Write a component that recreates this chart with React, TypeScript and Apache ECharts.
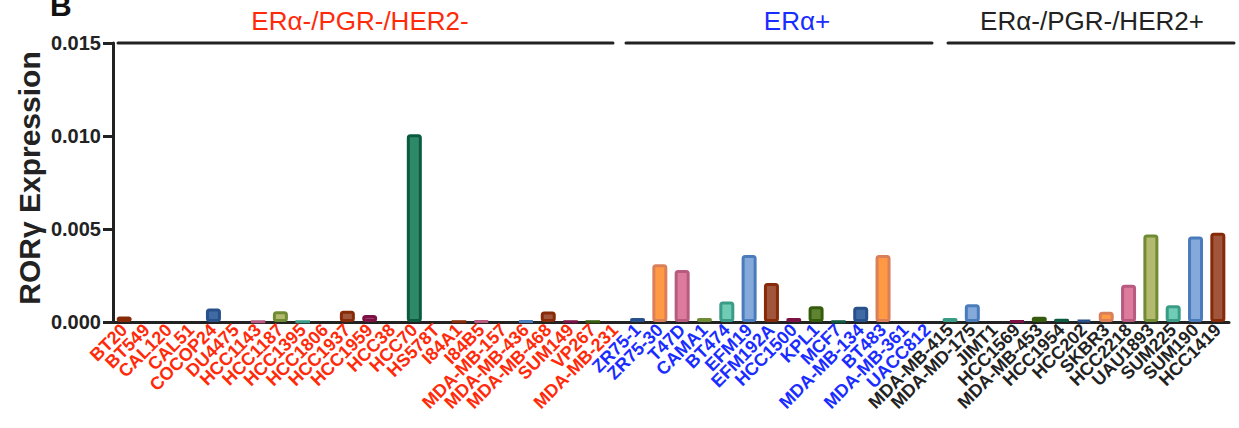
import React, { useEffect, useRef } from "react";
import * as echarts from "echarts";

const tnbcCells = [
  "BT20", "BT549", "CAL120", "CAL51", "COCOP24", "DU4475", "HCC1143", "HCC1187",
  "HCC1395", "HCC1806", "HCC1937", "HCC1959", "HCC38", "HCC70", "HS578T", "I84A1",
  "I84B5", "MDA-MB-157", "MDA-MB-436", "MDA-MB-468", "SUM149", "VP267", "MDA-MB-231",
];
const tnbcValues = [
  0.0003, 0, 0, 0, 0.00072, 0, 0.00003, 0.00058, 0.00002, 0, 0.0006, 0.00038, 0, 0.0101,
  0, 0.00002, 0.00006, 0, 0.00006, 0.00056, 0.00003, 0.00003, 0,
];
const tnbcColors = [
  "brown", "maroon", "dkgreen", "dkteal", "dkblue", "orange", "pink", "olive",
  "teal", "ltblue", "brown", "maroon", "dkgreen", "dkteal", "dkblue", "brown",
  "pink", "olive", "ltblue", "brown", "maroon", "dkgreen", "dkteal",
];

const erCells = [
  "ZR75-1", "ZR75-30", "T47D", "CAMA1", "BT474", "EFM19", "EFM192A", "HCC1500",
  "KPL1", "MCF7", "MDA-MB-134", "BT483", "MDA-MB-361", "UACC812",
];
const erValues = [
  0.00022, 0.0031, 0.0028, 0.00022, 0.0011, 0.0036, 0.0021, 0.00022,
  0.00085, 0.00004, 0.00082, 0.0036, 0, 0,
];
const erColors = [
  "dkblue", "orange", "pink", "olive", "teal", "ltblue", "brown", "maroon",
  "dkgreen", "dkteal", "dkblue", "orange", "pink", "olive",
];

const her2Cells = [
  "MDA-MB-415", "MDA-MD-175", "JIMT1", "HCC1569", "MDA-MB-453", "HCC1954", "HCC202",
  "SKBR3", "HCC2218", "UAU1893", "SUM225", "SUM190", "HCC1419",
];
const her2Values = [
  0.00022, 0.00095, 0, 0.00005, 0.00028, 0.00018, 0.00012,
  0.00055, 0.002, 0.0047, 0.0009, 0.0046, 0.0048,
];
const her2Colors = [
  "teal", "ltblue", "brown", "maroon", "dkgreen", "dkteal", "dkblue",
  "orange", "pink", "olive", "teal", "ltblue", "brown",
];

const groupNames = ["ERα-/PGR-/HER2-", "ERα+", "ERα-/PGR-/HER2+"];
const yTicks = [0, 0.005, 0.01, 0.015];

const palette: Record<string, [string, string]> = {
  dkblue: ["#3f6aa4", "#28508a"],
  orange: ["#ff9944", "#d9805a"],
  pink: ["#dc7b9c", "#b85a80"],
  olive: ["#b3ba6e", "#6f8c35"],
  teal: ["#70ccb4", "#3a9c86"],
  ltblue: ["#86a9dc", "#4a7cbc"],
  brown: ["#a0563c", "#862a08"],
  maroon: ["#a03868", "#7c1244"],
  dkgreen: ["#5e8432", "#345c0c"],
  dkteal: ["#2e8a66", "#0c5a40"],
};
const groupTextColors = ["#ff2a0a", "#1a2cff", "#222222"];

export default function App() {
  const ref = useRef<HTMLDivElement>(null);
  useEffect(() => {
    document.body.style.margin = "0";
    if (!ref.current) return;
    const chart = echarts.init(ref.current, null, { renderer: "svg" });
    const cats = [...tnbcCells, ...erCells, ...her2Cells];
    const vals = [...tnbcValues, ...erValues, ...her2Values];
    const cols = [...tnbcColors, ...erColors, ...her2Colors];
    const groupOf = (i: number) =>
      i < tnbcCells.length ? 0 : i < tnbcCells.length + erCells.length ? 1 : 2;
    const font = "'Liberation Sans', Arial, sans-serif";

    chart.setOption({
      animation: false,
      grid: { left: 113, right: 10, top: 43, bottom: 106, containLabel: false },
      xAxis: {
        type: "category",
        data: cats,
        axisLine: { lineStyle: { color: "#222", width: 3 } },
        axisTick: { alignWithLabel: true, length: 9, lineStyle: { color: "#222", width: 3 } },
        axisLabel: {
          interval: 0,
          rotate: 45,
          margin: 5,
          fontSize: 18,
          lineHeight: 18,
          fontWeight: "bold",
          fontFamily: font,
          color: (_v: string, i: number) => groupTextColors[groupOf(i)],
        },
      },
      yAxis: {
        type: "value",
        min: 0,
        max: 0.015,
        interval: 0.005,
        axisLine: { show: true, lineStyle: { color: "#222", width: 3 } },
        axisTick: { show: true, length: 10, lineStyle: { color: "#222", width: 3 } },
        splitLine: { show: false },
        axisLabel: {
          margin: 12,
          fontSize: 20,
          fontWeight: "bold",
          fontFamily: font,
          color: "#222",
          formatter: (v: number) => (yTicks.includes(v) ? v.toFixed(3) : ""),
        },
      },
      series: [
        {
          type: "bar",
          barWidth: 15,
          data: vals.map((v, i) =>
            v === 0
              ? "-"
              : {
                  value: v,
                  itemStyle: {
                    color: palette[cols[i]][0],
                    borderColor: palette[cols[i]][1],
                    borderWidth: 3,
                    borderRadius: 2,
                  },
                }
          ),
        },
      ],
      graphic: [
        {
          type: "text",
          left: 50,
          top: -10,
          style: { text: "B", font: `bold 30px ${font}`, fill: "#111" },
        },
        {
          type: "text",
          x: 29,
          y: 178,
          rotation: Math.PI / 2,
          style: {
            text: "RORγ Expression",
            font: `bold 30px ${font}`,
            fill: "#222",
            align: "center",
            verticalAlign: "middle",
          },
        },
        { type: "line", shape: { x1: 118, y1: 43, x2: 613, y2: 43 }, style: { stroke: "#222", lineWidth: 3, lineCap: "round" } },
        { type: "line", shape: { x1: 626, y1: 43, x2: 932, y2: 43 }, style: { stroke: "#222", lineWidth: 3, lineCap: "round" } },
        { type: "line", shape: { x1: 948, y1: 43, x2: 1234, y2: 43 }, style: { stroke: "#222", lineWidth: 3, lineCap: "round" } },
        {
          type: "text",
          x: 360,
          y: 34,
          style: { text: groupNames[0], font: `26px ${font}`, fill: groupTextColors[0], align: "center", verticalAlign: "bottom" },
        },
        {
          type: "text",
          x: 797,
          y: 34,
          style: { text: groupNames[1], font: `26px ${font}`, fill: groupTextColors[1], align: "center", verticalAlign: "bottom" },
        },
        {
          type: "text",
          x: 1092,
          y: 34,
          style: { text: groupNames[2], font: `26px ${font}`, fill: groupTextColors[2], align: "center", verticalAlign: "bottom" },
        },
      ],
    });
    return () => chart.dispose();
  }, []);
  return <div ref={ref} style={{ width: 1239, height: 428 }} />;
}
